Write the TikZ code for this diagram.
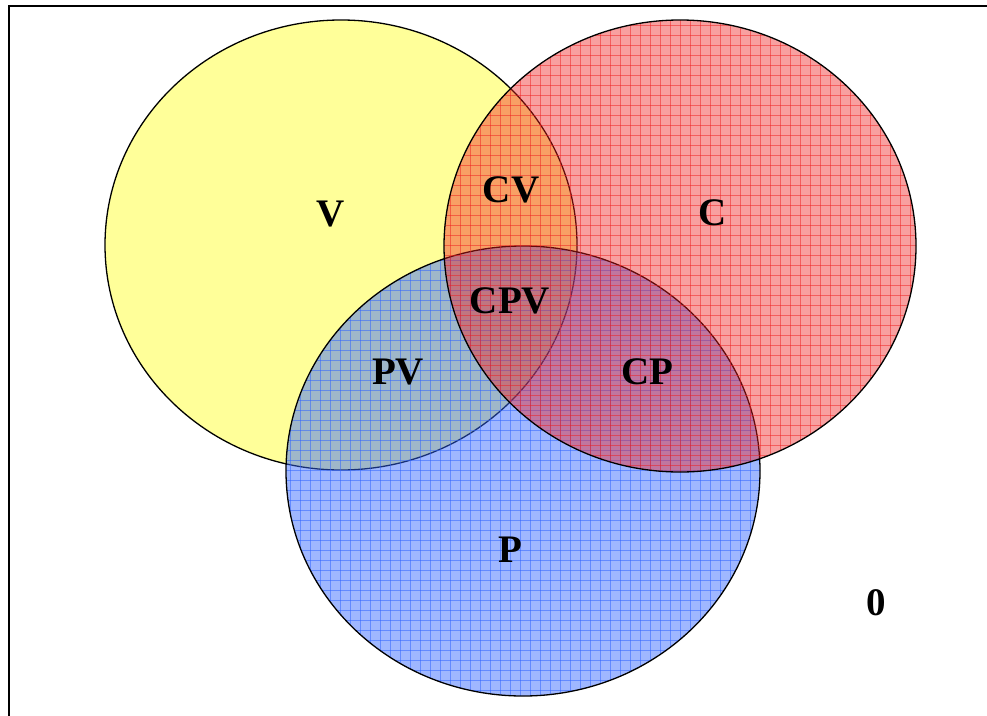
\documentclass[tikz,border=0pt]{standalone}
\usepackage{fontspec}
\setmainfont{Liberation Serif}
\begin{document}
\begin{tikzpicture}[x=1pt,y=-1pt,
  lbl/.style={font=\fontsize{39}{40}\selectfont\bfseries, inner sep=0pt},
  rim/.style={draw=black, line width=1.3pt}]
\definecolor{vyel}{RGB}{255,255,153}
\definecolor{pblue}{RGB}{51,102,255}
\definecolor{cred}{RGB}{240,30,30}
\useasboundingbox (0,0) rectangle (987,715);
\fill[white] (0,0) rectangle (987,715);
% frame
\draw[line width=2pt] (9,730) -- (9,6) -- (995,6);
% V circle
\fill[vyel] (341,245) ellipse [x radius=236, y radius=225];
\draw[rim] (341,245) ellipse [x radius=236, y radius=225];
% P circle
\fill[pblue, opacity=0.47] (523,471) ellipse [x radius=237, y radius=225];
\begin{scope}
  \clip (523,471) ellipse [x radius=237, y radius=225];
  \foreach \i in {0,...,48} {
    \draw[pblue, line width=1pt, opacity=0.55] (280+10*\i,240) -- (280+10*\i,700);
    \draw[pblue, line width=1pt, opacity=0.55] (280,240+10*\i) -- (770,240+10*\i);
  }
\end{scope}
\draw[rim] (523,471) ellipse [x radius=237, y radius=225];
% C circle
\fill[cred, opacity=0.42] (680,246) ellipse [x radius=236, y radius=226];
\begin{scope}
  \clip (680,246) ellipse [x radius=236, y radius=226];
  \foreach \i in {0,...,48} {
    \draw[cred, line width=1pt, opacity=0.5] (440+10*\i,15) -- (440+10*\i,475);
    \draw[cred, line width=1pt, opacity=0.5] (440,15+10*\i) -- (920,15+10*\i);
  }
\end{scope}
\draw[rim] (680,246) ellipse [x radius=236, y radius=226];
% labels
\node[lbl] (v) at (331,214) {V};
\node[lbl] (cv) at (511,190) {CV};
\node[lbl] (c) at (713,213) {C};
\node[lbl] (cpv) at (510,301) {CPV};
\node[lbl] (pv) at (398,372) {PV};
\node[lbl] (cp) at (647,372) {CP};
\node[lbl] (p) at (510,550) {P};
\node[lbl] (zero) at (876,603) {0};
\end{tikzpicture}
\end{document}
